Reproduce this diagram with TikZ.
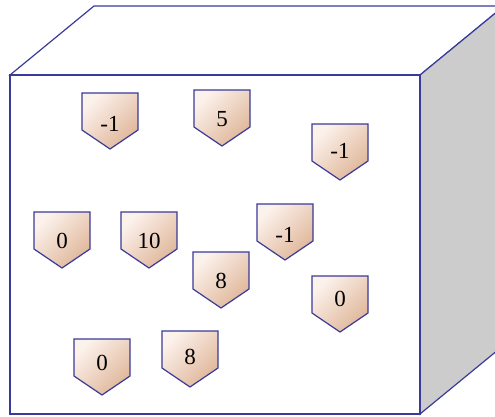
\documentclass[tikz,border=0pt]{standalone}
\usepackage{fontspec}
\setmainfont{Liberation Serif}
\definecolor{edgeblue}{HTML}{3A3A9A}
\definecolor{sidegrey}{HTML}{CCCCCC}
\definecolor{taglight}{HTML}{FCF2EC}
\definecolor{tagdark}{HTML}{DFB699}
\tikzset{
  boxline/.style={draw=edgeblue, line width=1.2pt, line join=miter},
  tagshape/.style={draw=edgeblue, line width=1.2pt, line join=miter,
    top color=taglight, bottom color=tagdark, shading angle=45},
  tagtext/.style={font=\fontsize{23}{25}\selectfont, inner sep=0pt, text=black}
}
\newcommand\pentag[5]{%
  \path[tagshape] (#1,#2) -- ++(56,0) -- ++(0,37) -- ++(-28,19) -- ++(-28,-19) -- cycle;
  \node[tagtext] (#4) at (#1+28,#5) {#3};}
\begin{document}
\begin{tikzpicture}[x=1pt,y=-1pt]
\useasboundingbox (0,0) rectangle (495,416);
\begin{scope}
\clip (0,0) rectangle (495,416);
\draw[boxline, fill=white] (10,75) -- (94,6) -- (504,6) -- (420,75) -- cycle;
\draw[boxline, fill=sidegrey] (420,75) -- (504,6) -- (504,345) -- (420,414) -- cycle;
\draw[boxline, fill=white] (10,75) rectangle (420,414);
\end{scope}
\pentag{82}{93}{-1}{t1}{124}
\pentag{194}{90}{5}{t2}{119}
\pentag{312}{124}{-1}{t3}{151}
\pentag{34}{212}{0}{t4}{241}
\pentag{121}{212}{10}{t5}{241}
\pentag{257}{204}{-1}{t6}{235}
\pentag{193}{252}{8}{t7}{281}
\pentag{312}{276}{0}{t8}{299}
\pentag{74}{339}{0}{t9}{363}
\pentag{162}{331}{8}{t10}{357}
\end{tikzpicture}
\end{document}
